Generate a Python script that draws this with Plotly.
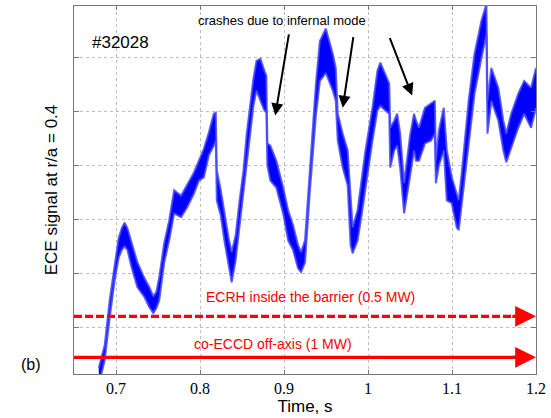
import plotly.graph_objects as go

# ECE signal envelope (time in s, upper/lower edge of the noisy trace, a.u.)
time = [0.6795, 0.6866, 0.6925, 0.6984, 0.7031, 0.7067, 0.7102, 0.7137, 0.7185, 0.7255,
        0.7338, 0.7397, 0.7444, 0.7480, 0.7515, 0.7574, 0.7633, 0.7692, 0.7775, 0.7846,
        0.7928, 0.7987, 0.8046, 0.8105, 0.8164, 0.8188, 0.8200, 0.8247, 0.8294, 0.8341,
        0.8377, 0.8424, 0.8471, 0.8518, 0.8554, 0.8601, 0.8636, 0.8672, 0.8719, 0.8766,
        0.8790, 0.8802, 0.8837, 0.8908, 0.8990, 0.9049, 0.9108, 0.9167, 0.9203, 0.9250,
        0.9309, 0.9380, 0.9427, 0.9498, 0.9581, 0.9616, 0.9640, 0.9699, 0.9758, 0.9793,
        0.9817, 0.9876, 0.9923, 0.9970, 1.0053, 1.0112, 1.0147, 1.0206, 1.0253, 1.0265,
        1.0312, 1.0348, 1.0383, 1.0430, 1.0466, 1.0501, 1.0548, 1.0572, 1.0607, 1.0678,
        1.0749, 1.0796, 1.0808, 1.0844, 1.0902, 1.0938, 1.0997, 1.1056, 1.1080, 1.1115,
        1.1198, 1.1268, 1.1351, 1.1410, 1.1422, 1.1469, 1.1552, 1.1611, 1.1646, 1.1705,
        1.1788, 1.1859, 1.1941, 1.2000]
upper = [0.24, 0.67, 1.50, 2.20, 2.65, 2.83, 2.94, 2.83, 2.56, 2.20,
         1.91, 1.74, 1.57, 1.65, 1.93, 2.56, 2.98, 3.54, 3.44, 3.63,
         3.87, 4.09, 4.31, 4.61, 4.96, 4.98, 3.91, 3.54, 3.07, 2.65,
         2.39, 2.70, 3.35, 3.91, 4.56, 5.20, 5.61, 5.94, 5.98, 5.76,
         5.67, 4.41, 4.37, 4.09, 3.59, 3.17, 2.89, 2.52, 2.39, 2.61,
         4.00, 5.52, 6.31, 6.54, 6.07, 5.81, 4.96, 4.59, 4.28, 3.35,
         2.85, 3.17, 3.72, 4.28, 5.07, 5.76, 5.91, 5.70, 5.52, 4.70,
         4.83, 4.96, 4.59, 3.67, 4.09, 4.56, 4.96, 4.83, 4.70, 5.07,
         5.15, 5.20, 4.09, 4.65, 5.07, 4.28, 3.78, 3.48, 3.35, 3.85,
         5.20, 6.07, 6.69, 7.00, 5.20, 5.81, 5.44, 4.83, 4.59, 4.96,
         5.33, 5.57, 5.44, 5.81]
lower = [-0.07, 0.39, 1.17, 1.87, 2.28, 2.43, 2.50, 2.43, 2.11, 1.74,
         1.56, 1.37, 1.26, 1.35, 1.50, 2.20, 2.61, 3.11, 3.04, 3.22,
         3.48, 3.72, 3.78, 4.19, 4.37, 4.46, 3.35, 3.07, 2.57, 2.15,
         1.83, 2.24, 2.89, 3.54, 4.09, 4.74, 5.11, 5.39, 5.20, 5.02,
         4.98, 4.00, 3.72, 3.59, 3.11, 2.61, 2.43, 2.09, 2.02, 2.20,
         3.54, 4.93, 5.57, 5.72, 5.39, 5.20, 4.46, 3.96, 3.63, 2.52,
         2.37, 2.61, 3.07, 3.59, 4.46, 5.02, 5.11, 5.02, 4.96, 3.96,
         4.28, 4.37, 3.96, 3.11, 3.44, 3.81, 4.28, 4.09, 4.09, 4.41,
         4.46, 4.59, 3.67, 4.00, 4.28, 3.35, 3.30, 2.85, 2.80, 3.26,
         4.46, 5.33, 6.00, 6.44, 4.59, 5.20, 4.83, 4.28, 4.06, 4.33,
         4.70, 4.96, 4.70, 5.07]

# heating phases (start, end, level)
heat_start = [0.65, 0.65]
heat_end = [1.185, 1.185]
heat_level = [1.20, 0.44]
heat_labels = ["ECRH inside the barrier (0.5 MW)", "co-ECCD off-axis (1 MW)"]
heat_label_pos = [(0.9321, 1.56), (0.8872, 0.69)]
heat_dash = ["8px,3px", "solid"]

# crash arrows: (tip t, tip y, tail t, tail y)
crash_arrows = [(0.8896, 4.93, 0.9061, 6.46),
                (0.9699, 5.07, 0.9828, 6.41),
                (1.0525, 5.30, 1.0253, 6.39)]

x_ticks = [0.7, 0.8, 0.9, 1.0, 1.1, 1.2]
x_ticklabels = ["0.7", "0.8", "0.9", "1", "1.1", "1.2"]
y_ticks = [1, 2, 3, 4, 5, 6]

fig = go.Figure()
edge = dict(color="rgba(70,70,255,0.85)", width=2)
fig.add_trace(go.Scatter(x=time, y=lower, mode="lines", line=edge,
                         showlegend=False, hoverinfo="skip"))
fig.add_trace(go.Scatter(x=time, y=upper, mode="lines", fill="tonexty",
                         fillcolor="rgb(0,0,255)", line=edge,
                         showlegend=False, hoverinfo="skip"))

red = "rgb(255,0,0)"
for s, e, lvl, d in zip(heat_start, heat_end, heat_level, heat_dash):
    fig.add_trace(go.Scatter(x=[s, e], y=[lvl, lvl], mode="lines",
                             line=dict(color=red, width=3.2, dash=d),
                             showlegend=False, hoverinfo="skip"))
    fig.add_annotation(x=1.2, y=lvl, ax=1.17, ay=lvl, xref="x", yref="y",
                       axref="x", ayref="y", text="", showarrow=True,
                       arrowhead=2, arrowsize=1.3, arrowwidth=3.2, arrowcolor=red)

for lab, (tx, ty) in zip(heat_labels, heat_label_pos):
    fig.add_annotation(x=tx, y=ty, xref="x", yref="y", text=lab, showarrow=False,
                       font=dict(family="Arial, Liberation Sans", size=14, color=red))

for (xt, yt, xa, ya) in crash_arrows:
    fig.add_annotation(x=xt, y=yt, ax=xa, ay=ya, xref="x", yref="y",
                       axref="x", ayref="y", text="", showarrow=True,
                       arrowhead=2, arrowsize=1.2, arrowwidth=2, arrowcolor="black")

fig.add_annotation(x=0.8979, y=6.70, xref="x", yref="y",
                   text="crashes due to infernal mode", showarrow=False,
                   font=dict(family="Arial, Liberation Sans", size=13, color="black"))
fig.add_annotation(x=0.7055, y=6.28, xref="x", yref="y", text="#32028",
                   showarrow=False,
                   font=dict(family="Arial, Liberation Sans", size=17, color="black"))
fig.add_annotation(x=-0.120, y=0.30, xref="paper", yref="y", text="(b)",
                   showarrow=False,
                   font=dict(family="Arial, Liberation Sans", size=16, color="black"))

axis_col = "rgb(120,120,120)"
fig.update_layout(
    width=551, height=418,
    margin=dict(l=74, r=11, t=5, b=44),
    paper_bgcolor="white", plot_bgcolor="white",
    font=dict(family="Arial, Liberation Sans", color="black"),
    xaxis=dict(range=[0.65, 1.2], tickvals=x_ticks, ticktext=x_ticklabels,
               showgrid=True, gridcolor="rgb(190,190,190)", griddash="dot", gridwidth=1,
               showline=True, linecolor=axis_col, linewidth=1, mirror="ticks",
               ticks="inside", ticklen=4, tickcolor=axis_col, zeroline=False,
               tickfont=dict(family="Liberation Serif", size=16, color="black"),
               title=dict(text="Time, s", standoff=2,
                          font=dict(family="Arial, Liberation Sans", size=17))),
    yaxis=dict(range=[0.13, 6.96], tickvals=y_ticks, showticklabels=False,
               showgrid=True, gridcolor="rgb(190,190,190)", griddash="dot", gridwidth=1,
               showline=True, linecolor=axis_col, linewidth=1, mirror="ticks",
               ticks="inside", ticklen=5, tickcolor=axis_col, zeroline=False,
               title=dict(text="ECE signal at r/a = 0.4", standoff=11,
                          font=dict(family="Arial, Liberation Sans", size=17))),
)

fig.write_html("out.html")
